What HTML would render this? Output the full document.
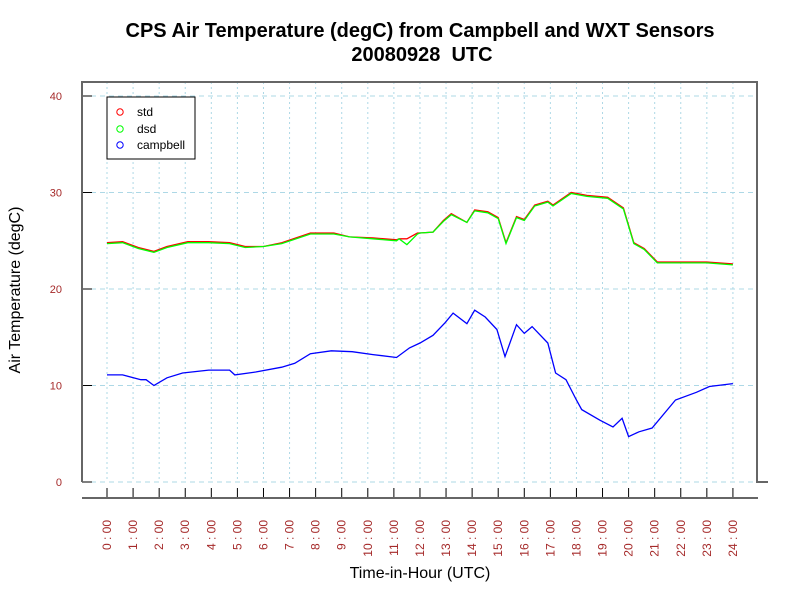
<!DOCTYPE html>
<html><head><meta charset="utf-8"><style>
body{margin:0;background:#fff}
svg{display:block;font-family:"Liberation Sans",sans-serif}
</style></head><body>
<svg id="c" width="800" height="600" viewBox="0 0 800 600">
<text x="420" y="37" text-anchor="middle" font-size="20" font-weight="bold">CPS Air Temperature (degC) from Campbell and WXT Sensors</text>
<text x="422" y="61" text-anchor="middle" font-size="20" font-weight="bold">20080928&#160; UTC</text>
<text transform="translate(20,290) rotate(-90)" text-anchor="middle" font-size="16">Air Temperature (degC)</text>
<text x="420" y="578" text-anchor="middle" font-size="16">Time-in-Hour (UTC)</text>
<g id="grid"></g><g id="axes"></g><g id="series"></g>
<g>
<rect x="107" y="97" width="88" height="62" fill="#fff" stroke="#000" stroke-width="1"/>
<circle cx="120" cy="112" r="3.2" fill="none" stroke="#f00"/><text x="137" y="116" font-size="12">std</text>
<circle cx="120" cy="129" r="3.2" fill="none" stroke="#0f0"/><text x="137" y="133" font-size="12">dsd</text>
<circle cx="120" cy="145" r="3.2" fill="none" stroke="#00f"/><text x="137" y="149" font-size="12">campbell</text>
</g>
</svg>
<script>
const yTicks=[0,10,20,30,40];
const xHours=[0,1,2,3,4,5,6,7,8,9,10,11,12,13,14,15,16,17,18,19,20,21,22,23,24];
const wxtHours=[0,0.6,1.2,1.8,2.3,3.1,3.9,4.7,5.3,6.0,6.7,7.8,8.7,9.3,10.2,11.1,11.2,11.5,11.9,12.0,12.5,12.9,13.2,13.8,14.1,14.6,15.0,15.3,15.7,16.0,16.4,16.9,17.1,17.8,18.4,19.2,19.8,20.2,20.6,21.1,22,23,24];
const stdValues=[24.8,24.9,24.3,23.9,24.4,24.9,24.9,24.8,24.4,24.4,24.8,25.8,25.8,25.4,25.3,25.1,25.2,25.2,25.8,25.8,25.9,27.1,27.8,26.9,28.2,28.0,27.4,24.8,27.5,27.2,28.7,29.1,28.7,30.0,29.7,29.5,28.4,24.8,24.2,22.8,22.8,22.8,22.6];
const dsdValues=[24.7,24.8,24.2,23.8,24.3,24.8,24.8,24.7,24.3,24.4,24.7,25.7,25.7,25.4,25.2,25.0,25.2,24.6,25.7,25.8,25.9,27.0,27.7,26.9,28.1,27.9,27.3,24.7,27.4,27.1,28.6,29.0,28.6,29.9,29.6,29.4,28.3,24.7,24.1,22.7,22.7,22.7,22.5];
const campHours=[0,0.6,1.3,1.5,1.8,2.3,2.9,3.9,4.7,4.9,5.7,6.7,7.2,7.8,8.6,9.4,10.2,11.1,11.6,12.0,12.5,12.96,13.27,13.8,14.1,14.5,14.95,15.26,15.7,16.0,16.3,16.9,17.2,17.6,18.0,18.2,18.9,19.4,19.75,20.0,20.4,20.9,21.8,22.6,23.1,24];
const campValues=[11.1,11.1,10.6,10.6,10.0,10.8,11.3,11.6,11.6,11.1,11.4,11.9,12.3,13.3,13.6,13.5,13.2,12.9,13.9,14.4,15.2,16.5,17.5,16.4,17.8,17.1,15.8,13.0,16.3,15.4,16.1,14.4,11.3,10.6,8.5,7.5,6.4,5.7,6.6,4.7,5.2,5.6,8.5,9.3,9.9,10.2];

const X=h=>107+h*26.08, Y=v=>482-v*9.65;
const NS="http://www.w3.org/2000/svg";
function mk(tag,attrs,parent){const e=document.createElementNS(NS,tag);for(const k in attrs)e.setAttribute(k,attrs[k]);parent.appendChild(e);return e;}
const grid=document.getElementById('grid'),axes=document.getElementById('axes'),ser=document.getElementById('series');
yTicks.forEach(v=>{
 const g=mk('line',{x1:82,x2:757,y1:Y(v),y2:Y(v),stroke:'#add8e6','stroke-dasharray':'5,4'},grid);
 
 
 const t=mk('line',{x1:82,x2:92,y1:Y(v),y2:Y(v),stroke:'#000'},axes);
 
 
 const l=mk('text',{x:62,y:Y(v)+4,'text-anchor':'end','font-size':11,fill:'#a52a2a'},axes);
 l.textContent=v;
 
 
});
xHours.forEach(h=>{
 const g=mk('line',{x1:X(h),x2:X(h),y1:82,y2:482,stroke:'#add8e6','stroke-dasharray':'2,3'},grid);
 
 
 const t=mk('line',{x1:X(h),x2:X(h),y1:488,y2:498,stroke:'#000'},axes);
 
 
 const l=mk('text',{transform:`translate(${X(h)+4},520) rotate(-90)`,'text-anchor':'end','font-size':12,fill:'#a52a2a'},axes);
 l.textContent=h+' : 00';
 
 
});
const fr=mk('path',{d:'M82,482 V82 H757 V482 H768',fill:'none',stroke:'#666','stroke-width':2},axes);


const xa=mk('line',{x1:82,x2:758,y1:498,y2:498,stroke:'#666','stroke-width':2},axes);


function line(hs,vs,col,name){
 const d=hs.map((h,i)=>(i?'L':'M')+X(h).toFixed(1)+','+Y(vs[i]).toFixed(1)).join(' ');
 const p=mk('path',{d:d,fill:'none',stroke:col,'stroke-width':1.3},ser);
 
 
}
line(wxtHours,stdValues,'#f00','std-line');
line(wxtHours,dsdValues,'#0f0','dsd-line');
line(campHours,campValues,'#00f','campbell-line');
</script>
</body></html>
